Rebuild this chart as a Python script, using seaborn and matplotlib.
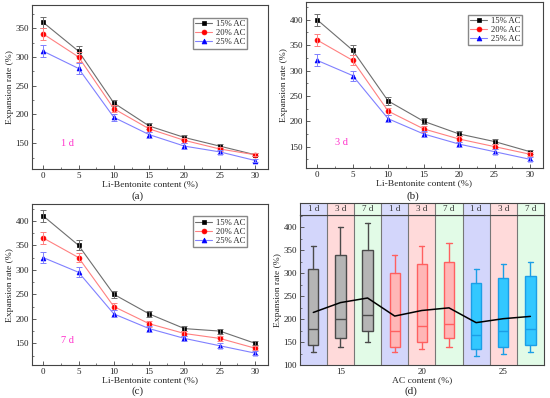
import numpy as np
import pandas as pd
import matplotlib
matplotlib.use("Agg")
import matplotlib.pyplot as plt
from matplotlib.ticker import MultipleLocator
import seaborn as sns

# data
li_content = [0, 5, 10, 15, 20, 25, 30]
ac_labels = ["15% AC", "20% AC", "25% AC"]
ac_values = [15, 20, 25]
days = ["1 d", "3 d", "7 d"]

# expansion rate (%) per AC content, rows = 15 / 20 / 25 % AC
exp_1d = [[360, 310, 220, 180, 160, 145, 130],
          [340, 300, 210, 175, 155, 140, 130],
          [310, 280, 195, 165, 145, 135, 120]]
exp_3d = [[400, 340, 240, 200, 175, 160, 140],
          [360, 320, 220, 185, 165, 150, 135],
          [320, 290, 205, 175, 155, 140, 125]]
exp_7d = [[410, 350, 250, 210, 180, 175, 150],
          [365, 325, 225, 190, 170, 160, 140],
          [325, 295, 210, 180, 160, 145, 130]]

err_1d = [10, 9, 6, 5, 5, 4, 3]
err_3d = [12, 10, 7, 6, 5, 5, 4]
err_7d = [12, 10, 7, 6, 5, 5, 4]

sns.set_style("ticks")
plt.rcParams["font.family"] = ["Liberation Serif", "DejaVu Serif"]
plt.rcParams["axes.edgecolor"] = "#444444"
plt.rcParams["xtick.color"] = "#444444"
plt.rcParams["ytick.color"] = "#444444"
plt.rcParams["xtick.labelcolor"] = "#222222"
plt.rcParams["ytick.labelcolor"] = "#222222"

line_cols = ["#6e6e6e", "#ff8080", "#8080ff"]
mark_cols = ["#000000", "#ff0000", "#0000ff"]
markers = ["s", "o", "^"]
FS = 6.5

fig = plt.figure(figsize=(5.5, 3.98), dpi=100)
ax_a = fig.add_axes([0.058, 0.575, 0.429, 0.412])
ax_b = fig.add_axes([0.556, 0.578, 0.431, 0.417])
ax_c = fig.add_axes([0.058, 0.082, 0.429, 0.405])
ax_d = fig.add_axes([0.545, 0.082, 0.444, 0.378])
ax_s = fig.add_axes([0.545, 0.460, 0.444, 0.030])


def line_panel(ax, data, err, ylim, ymax_tick, day_text):
    for vals, lab, lc, mc, mk in zip(data, ac_labels, line_cols, mark_cols, markers):
        sns.lineplot(x=li_content, y=vals, ax=ax, color=lc, lw=0.8, marker=mk,
                     markersize=3.5, markerfacecolor=mc, markeredgecolor=mc,
                     markeredgewidth=0.5, label=lab)
        ax.errorbar(li_content, vals, yerr=err, fmt="none", ecolor=lc,
                    elinewidth=0.7, capsize=2, capthick=0.7)
    ax.set_xlim(-1.6, 31.8)
    ax.set_ylim(*ylim)
    ax.set_xticks(li_content)
    ax.set_yticks(np.arange(150, ymax_tick + 1, 50))
    ax.xaxis.set_minor_locator(MultipleLocator(2.5))
    ax.yaxis.set_minor_locator(MultipleLocator(25))
    ax.tick_params(which="both", direction="in", labelsize=FS, pad=2)
    ax.tick_params(which="major", length=3, width=0.6)
    ax.tick_params(which="minor", length=1.5, width=0.5)
    for s in ax.spines.values():
        s.set_linewidth(0.8)
    ax.set_xlabel("Li-Bentonite content (%)", fontsize=FS + 0.3, labelpad=0)
    ax.set_ylabel("Expansion rate (%)", fontsize=FS + 0.3, labelpad=1)
    ax.text(0.15, 0.155, day_text, transform=ax.transAxes, color="#ff33cc",
            fontsize=FS + 1, ha="center", va="center")
    ax.legend(loc="upper right", bbox_to_anchor=(0.92, 0.935), fontsize=FS - 0.3,
              frameon=True, fancybox=False, edgecolor="#888888",
              handlelength=2.0, borderpad=0.25, labelspacing=0.15,
              handletextpad=0.4, borderaxespad=0.2, framealpha=1)


line_panel(ax_a, exp_1d, err_1d, (105, 390), 350, "1 d")
line_panel(ax_b, exp_3d, err_3d, (108, 435), 400, "3 d")
line_panel(ax_c, exp_7d, err_7d, (105, 434), 400, "7 d")

# panel (d): boxes built from the curves of (a)-(c)
band_cols = ["#d3d6fb", "#ffdada", "#e2fbe7"]
strip_cols = ["#d9dcfd", "#ffdede", "#e6fdea"]
box_face = ["#b5b5b5", "#ffb6b6", "#33c8ff"]
box_edge = ["#4a4a4a", "#ff6060", "#1c9ee6"]

all_days = [exp_1d, exp_3d, exp_7d]
stats, means, faces, edges = [], [], [], []
for g in range(3):
    for d in range(3):
        v = np.array(all_days[d][g], dtype=float)
        q1, med, q3 = np.percentile(v, [25, 50, 75], method="weibull")
        stats.append(dict(med=med, q1=q1, q3=q3, whislo=v.min(), whishi=v.max(),
                          fliers=[], mean=v.mean()))
        means.append(v.mean())
        faces.append(box_face[g])
        edges.append(box_edge[g])

positions = np.arange(9)
for i in positions:
    ax_d.axvspan(i - 0.5, i + 0.5, color=band_cols[i % 3], lw=0, zorder=0)
    ax_s.axvspan(i - 0.5, i + 0.5, color=strip_cols[i % 3], lw=0, zorder=0)
    ax_s.text(i, 0.5, days[i % 3], ha="center", va="center", fontsize=FS,
              color="#333333")
    if i > 0:
        ax_d.axvline(i - 0.5, color="#777777", lw=0.8, zorder=1)
        ax_s.axvline(i - 0.5, color="#777777", lw=0.8, zorder=1)

for i, st in enumerate(stats):
    ax_d.bxp([st], positions=[i], widths=0.38, patch_artist=True,
             showfliers=False, manage_ticks=False,
             boxprops=dict(facecolor=faces[i], edgecolor=edges[i], lw=1.0),
             whiskerprops=dict(color=edges[i], lw=1.0),
             capprops=dict(color=edges[i], lw=1.0),
             medianprops=dict(color=edges[i], lw=1.0))

sns.lineplot(x=positions, y=means, ax=ax_d, color="black", lw=1.1, zorder=5)

ax_d.set_xlim(-0.5, 8.5)
ax_d.set_ylim(100, 427)
ax_d.set_xticks([1, 4, 7])
ax_d.set_xticklabels([str(a) for a in ac_values])
ax_d.set_yticks(np.arange(100, 401, 50))
ax_d.yaxis.set_minor_locator(MultipleLocator(25))
ax_d.tick_params(which="both", direction="in", labelsize=FS, pad=2)
ax_d.tick_params(which="major", length=3, width=0.6)
ax_d.tick_params(which="minor", length=1.5, width=0.5)
ax_d.tick_params(axis="x", length=0)
ax_d.set_xlabel("AC content (%)", fontsize=FS + 0.3, labelpad=0)
ax_d.set_ylabel("Expansion rate (%)", fontsize=FS + 0.3, labelpad=1)
for s in ax_d.spines.values():
    s.set_linewidth(0.8)

ax_s.set_xlim(-0.5, 8.5)
ax_s.set_ylim(0, 1)
ax_s.set_xticks([])
ax_s.set_yticks([])
for s in ax_s.spines.values():
    s.set_linewidth(0.8)

for lab, x, y in [("(a)", 0.251, 0.508), ("(b)", 0.751, 0.508),
                  ("(c)", 0.251, 0.018), ("(d)", 0.748, 0.018)]:
    fig.text(x, y, lab, ha="center", va="center", fontsize=FS + 1.5)

fig.savefig("out.png", dpi=100)
